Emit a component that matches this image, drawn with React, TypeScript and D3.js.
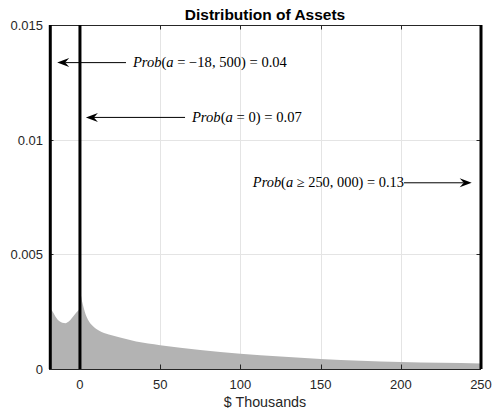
import React from "react";
import * as d3 from "d3";

// ---- data ----
const assetsK = [-18.5, -17, -15, -13, -11, -9, -7, -5, -3, -1.5, -0.5, 0.5, 1.5, 3, 5, 8, 12, 18, 25, 35, 50, 75, 100, 125, 150, 175, 200, 225, 250];
const density = [0.00265, 0.0025, 0.00226, 0.00209, 0.00202, 0.002, 0.00207, 0.00222, 0.0024, 0.00252, 0.0026, 0.0032, 0.0029, 0.0025, 0.00215, 0.00188, 0.00167, 0.0015, 0.00137, 0.0012, 0.00104, 0.00083, 0.00066, 0.00054, 0.00044, 0.00036, 0.0003, 0.00027, 0.00024];
const xTicks = [0, 50, 100, 150, 200, 250];
const yTicks = [0, 0.005, 0.01, 0.015];
const yTickLabels = ["0", "0.005", "0.01", "0.015"];
const markerLines = [-18.5, 0, 250];
const titleText = "Distribution of Assets";
const xLabelText = "$ Thousands";
// annotations: label parts [text, italic], arrow tail/tip in data coords
const annParts: [string, boolean][][] = [
  [["Prob", true], ["(", false], ["a", true], [" = −18, 500) = 0.04", false]],
  [["Prob", true], ["(", false], ["a", true], [" = 0) = 0.07", false]],
  [["Prob", true], ["(", false], ["a", true], [" ≥ 250, 000) = 0.13", false]],
];
const annY = [0.01336, 0.01097, 0.00812];
const annTail = [28.7, 65.5, 202];
const annTip = [-14.2, 3.7, 244.2];
const annTextX = [33, 69.8, 107.8];
const annWidth = [154, 110, 151];

const W = 492, H = 410;
const L = 49, R = 481, T = 25, B = 369;

export default function App() {
  const x = d3.scaleLinear().domain([-19.3, 250]).range([L, R]);
  const y = d3.scaleLinear().domain([0, 0.015]).range([B, T]);
  const pts = assetsK.map((a, i) => [a, density[i]] as [number, number]);
  const area = d3
    .area<[number, number]>()
    .x((d) => x(d[0]))
    .y0(y(0))
    .y1((d) => y(d[1]))
    .curve(d3.curveMonotoneX)(pts) as string;

  const axisColor = "#262626";
  const gridColor = "#e4e4e4";
  const sans = "'Liberation Sans', Arial, Helvetica, sans-serif";
  const serif = "'Liberation Serif', 'DejaVu Serif', serif";
  const tick = 4.5;

  const arrowHead = (tipX: number, tipY: number, dir: number) => {
    const len = 12, hw = 4.5, notch = 8;
    return `M${tipX},${tipY} L${tipX + dir * len},${tipY - hw} L${tipX + dir * notch},${tipY} L${tipX + dir * len},${tipY + hw} Z`;
  };

  return (
    <svg width={W} height={H} style={{ position: "absolute", left: 0, top: 0, background: "#fff" }}>
      <rect x={0} y={0} width={W} height={H} fill="#fff" />
      {/* grid */}
      {xTicks.map((t) => (
        <line key={"gx" + t} x1={Math.round(x(t)) + 0.5} x2={Math.round(x(t)) + 0.5} y1={T} y2={B} stroke={gridColor} strokeWidth={1} />
      ))}
      {yTicks.map((t) => (
        <line key={"gy" + t} x1={L} x2={R} y1={Math.round(y(t)) + 0.5} y2={Math.round(y(t)) + 0.5} stroke={gridColor} strokeWidth={1} />
      ))}
      {/* area */}
      <path d={area} fill="#b3b3b3" stroke="none" />
      {/* axes box */}
      <rect x={L + 0.5} y={T + 0.5} width={R - L - 1} height={B - T} fill="none" stroke={axisColor} strokeWidth={1} />
      {/* ticks */}
      {xTicks.map((t) => (
        <g key={"tx" + t}>
          <line x1={Math.round(x(t)) + 0.5} x2={Math.round(x(t)) + 0.5} y1={B} y2={B - tick} stroke={axisColor} />
          <line x1={Math.round(x(t)) + 0.5} x2={Math.round(x(t)) + 0.5} y1={T} y2={T + tick} stroke={axisColor} />
          <text x={x(t)} y={389} textAnchor="middle" fontFamily={sans} fontSize={13} fill={axisColor}>{t}</text>
        </g>
      ))}
      {yTicks.map((t, i) => (
        <g key={"ty" + t}>
          <line x1={L} x2={L + tick} y1={Math.round(y(t)) + 0.5} y2={Math.round(y(t)) + 0.5} stroke={axisColor} />
          <line x1={R - tick} x2={R} y1={Math.round(y(t)) + 0.5} y2={Math.round(y(t)) + 0.5} stroke={axisColor} />
          <text x={43} y={y(t) + 5} textAnchor="end" fontFamily={sans} fontSize={13} fill={axisColor}>{yTickLabels[i]}</text>
        </g>
      ))}
      {/* marker lines */}
      {markerLines.map((m) => (
        <line key={"m" + m} x1={x(m)} x2={x(m)} y1={y(0.015)} y2={y(0)} stroke="#000" strokeWidth={3} />
      ))}
      {/* annotations */}
      {annParts.map((parts, i) => {
        const yy = y(annY[i]);
        const tailX = x(annTail[i]);
        const tipX = x(annTip[i]);
        const dir = tipX < tailX ? 1 : -1;
        return (
          <g key={"a" + i}>
            <line x1={tailX} x2={tipX + dir * 8} y1={yy} y2={yy} stroke="#000" strokeWidth={1} />
            <path d={arrowHead(tipX, yy, dir)} fill="#000" />
            <text x={x(annTextX[i])} y={yy + 4.5} fontFamily={serif} fontSize={14} fill="#000" textLength={annWidth[i]} lengthAdjust="spacingAndGlyphs" style={{ whiteSpace: "pre" }}>
              {parts.map(([s, it], j) => (
                <tspan key={j} fontStyle={it ? "italic" : "normal"}>{s}</tspan>
              ))}
            </text>
          </g>
        );
      })}
      {/* title and label */}
      <text x={(L + R) / 2} y={20} textAnchor="middle" fontFamily={sans} fontSize={15.5} fontWeight="bold" fill="#000">{titleText}</text>
      <text x={(L + R) / 2} y={407} textAnchor="middle" fontFamily={sans} fontSize={14.3} fill={axisColor}>{xLabelText}</text>
    </svg>
  );
}
